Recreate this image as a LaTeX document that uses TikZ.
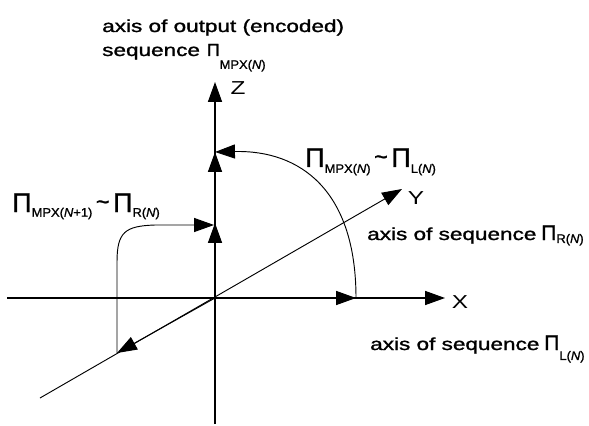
\documentclass[tikz,border=0pt]{standalone}
\usepackage{fontspec}
\setmainfont{Liberation Sans}
\newfontfamily\heavyfont[FakeBold=1.2]{Liberation Sans}
\usetikzlibrary{arrows.meta}
\newcommand{\wide}[1]{\scalebox{1.3}[1]{#1}}
\newcommand{\seqpi}[1][18pt]{{\fontsize{#1}{#1}\selectfont Π}}
\newcommand{\seqsub}[2]{\raisebox{-#1}{\fontsize{10.5}{10.5}\selectfont\scalebox{1.05}[1]{#2}}}
\newcommand{\simto}{\hspace{3pt}\raisebox{2pt}{\fontsize{20}{20}\selectfont\textasciitilde}\hspace{3pt}}

\begin{document}
\begin{tikzpicture}[x=0.03cm,y=-0.03cm,
  axis/.style={line width=1pt,-{Triangle[length=17pt,width=12pt]}},
  flow/.style={line width=0.8pt,-{Triangle[length=17pt,width=12pt]}},
  lbl/.style={inner sep=0pt,anchor=base west,font=\heavyfont\fontsize{14.8}{17}\selectfont},
  axlbl/.style={inner sep=0pt,font=\fontsize{16}{16}\selectfont}]
\useasboundingbox (0,0) rectangle (589,426);

% axes
\coordinate (O) at (215,298);
\coordinate (xl) at (7,298);
\coordinate (xt) at (445,298);
\coordinate (xm) at (356,298);
\coordinate (zb) at (215,424);
\coordinate (zt) at (215,82);
\coordinate (zu) at (215,152);
\coordinate (zl) at (215,223);
\coordinate (yl) at (40,398);
\coordinate (yt) at (402,189);
\coordinate (ym) at (117,353);
\coordinate (le) at (214,225);

\draw [axis] (xl) -- (xt);
\draw [axis] (O) -- (xm);
\draw [axis] (zb) -- (zt);
\draw [axis] (O) -- (zu);
\draw [axis] (O) -- (zl);
\draw [flow] (yl) -- (yt);
\draw [flow] (O) -- (ym);

% curved transfers
\draw [flow] (xm) .. controls (356,190) and (300,150) .. (zu);
\draw [flow] (ym) -- (117,262) .. controls (117,232) and (125,226) .. (155,225) -- (le);

% axis names
\node (X) [axlbl] at (460,302) {\wide{X}};
\node (Y) [axlbl] at (416,198) {\wide{Y}};
\node (Z) [axlbl] at (238,88) {\wide{Z}};

% texts
\node (zname1) [lbl] at (102,32) {\wide{axis of output (encoded)}};
\node (zname2) [lbl] at (102,56) {\wide{sequence}\hspace{6pt}\seqpi[15pt]\seqsub{11pt}{MPX(\textit{N})}};
\node (yname) [lbl] at (367,240) {\wide{axis of sequence} \seqpi\seqsub{2.5pt}{R(\textit{N})}};
\node (xname) [lbl] at (370,350) {\wide{axis of sequence} \seqpi\seqsub{8.5pt}{L(\textit{N})}};
\node (rel1) [lbl] at (12,212) {\seqpi[23pt]\seqsub{4pt}{MPX(\textit{N}+1)}\simto\seqpi[23pt]\seqsub{4pt}{R(\textit{N})}};
\node (rel2) [lbl] at (305,167) {\seqpi[23pt]\seqsub{5pt}{MPX(\textit{N})}\simto\seqpi[23pt]\seqsub{5pt}{L(\textit{N})}};
\end{tikzpicture}
\end{document}
